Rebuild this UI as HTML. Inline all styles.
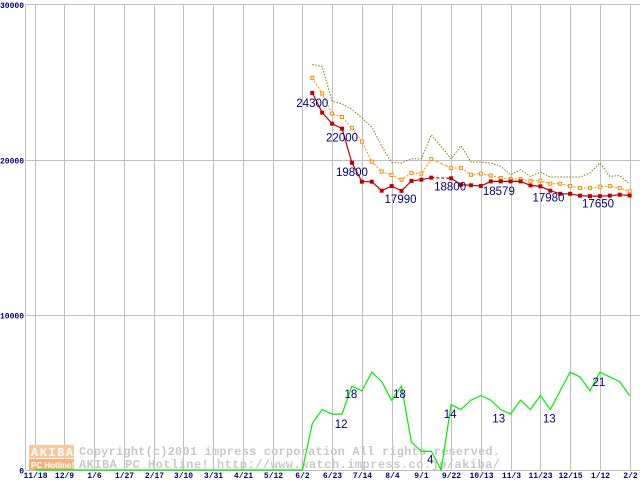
<!DOCTYPE html>
<html><head><meta charset="utf-8"><style>
html,body{margin:0;padding:0;background:#fff;}
svg{display:block;}
</style></head><body>
<svg id="chart" width="640" height="480" viewBox="0 0 640 480" xmlns="http://www.w3.org/2000/svg">
<g id="grid"></g>
<g id="watermark">
  <rect x="29" y="445" width="45" height="13" fill="#f9c79a"/>
  <text x="31" y="456" font-family="Liberation Mono, monospace" font-size="12" font-weight="bold" fill="#fff" letter-spacing="1.5">AKIBA</text>
  <rect x="29" y="459" width="45" height="11" fill="#f7b07a"/>
  <text x="31" y="468" font-family="Liberation Sans, sans-serif" font-size="8" font-weight="bold" fill="#fff">PC Hotline!</text>
  <text x="79" y="455" font-family="Liberation Mono, monospace" font-size="12" font-weight="bold" fill="#c8c8c8" textLength="421">Copyright(c)2001 impress corporation All rights reserved.</text>
  <text x="79" y="468" font-family="Liberation Mono, monospace" font-size="12" font-weight="bold" fill="#c8c8c8" textLength="421">AKIBA PC Hotline!  http://www.watch.impress.co.jp/akiba/</text>
</g>
<g id="series"></g>
<g id="labels"></g>
</svg>
<script>
const xTickLabels = ["11/18","12/9","1/6","1/27","2/17","3/10","3/31","4/21","5/12","6/2","6/23","7/14","8/4","9/1","9/22","10/13","11/3","11/23","12/15","1/12","2/2"];
const yTickValues = [0,10000,20000,30000];
const priceStart = 28;
const minPrice = [24300,23030,22320,22000,19800,18580,18580,18000,18300,17990,18630,18710,18840,null,18800,18390,18350,18300,18600,18600,18600,18600,18340,18280,18000,17800,17800,17680,17650,17650,17680,17740,17690];
const avgPrice = [25270,24260,22970,22750,22050,21160,19870,19230,19010,18710,19140,19100,20040,null,19460,19460,19030,19100,18970,18820,18750,18750,18640,18640,18450,18450,18300,18170,18170,18260,18300,18170,17960];
const maxPrice = [26130,26020,23760,23610,23230,22690,22110,20860,19830,19790,20050,20050,21610,20860,20050,20900,19850,19850,19780,19570,19030,19350,18920,19200,18880,18880,18880,18880,19140,19790,18920,18970,18430];
const shopCount = [0,0,0,0,0,0,0,0,0,0,0,0,0,0,0,0,0,0,0,0,0,0,0,0,0,0,0,0,10,13,12,12,18,17,21,19,15,18,6,4,4,0,14,13,15,16,15,13,12,15,13,16,13,17,21,20,17,21,20,19,16];
const priceLabels = [[0,"24300"],[3,"22000"],[4,"19800"],[9,"17990"],[14,"18800"],[17,"18579"],[22,"17980"],[27,"17650"]];
const countLabels = [[30,"12"],[32,"18"],[37,"18"],[39,"4"],[42,"14"],[47,"13"],[52,"13"],[57,"21"]];

const NS="http://www.w3.org/2000/svg";
const X0=34.6, XW=9.917, Y0=470, YMAX=30000, YTOP=4.5;
function xw(i){return X0+i*XW;}
function yp(v){return Y0-(v/YMAX)*(Y0-YTOP);}
function yc(c){return yp(c*300);}
function mk(tag,attrs,parent){const e=document.createElementNS(NS,tag);for(const k in attrs)e.setAttribute(k,attrs[k]);parent.appendChild(e);return e;}
const grid=document.getElementById('grid'), series=document.getElementById('series'), labels=document.getElementById('labels');

let a=mk('line',{x1:25.5,y1:YTOP,x2:640,y2:YTOP,stroke:'#c0c0c0'},grid);


a=mk('line',{x1:25.5,y1:YTOP,x2:25.5,y2:470,stroke:'#c0c0c0'},grid);


yTickValues.forEach(v=>{
  const y=Math.round(yp(v))+0.5;
  if(v>0&&v<YMAX){const l=mk('line',{x1:25.5,y1:y,x2:640,y2:y,stroke:'#c0c0c0'},grid);
    
    }
  const t=mk('text',{x:24,y:v===YMAX?8:y+3,'text-anchor':'end','font-family':'Liberation Mono, monospace','font-size':'8','font-weight':'bold',fill:'#000080'},grid);
  t.textContent=String(v);
  
  
});
xTickLabels.forEach((s,k)=>{
  const x=Math.round(xw(k*3))+0.5;
  const l=mk('line',{x1:x,y1:YTOP,x2:x,y2:470,stroke:'#c0c0c0'},grid);
  
  
  const t=mk('text',{x:x,y:478,'text-anchor':'middle','font-family':'Liberation Mono, monospace','font-size':'8','font-weight':'bold',fill:'#000080'},grid);
  t.textContent=s;
  
  
});
a=mk('line',{x1:25.5,y1:470.5,x2:640,y2:470.5,stroke:'#c0c0c0'},grid);



let pts=shopCount.map((c,i)=>xw(i).toFixed(1)+','+yc(c).toFixed(1)).join(' ');
let pl=mk('polyline',{points:pts,fill:'none',stroke:'#00ee00','stroke-width':1.2},series);



function priceLine(arr,color,dash,name,width){
  let segs=[],cur=[];
  arr.forEach((v,i)=>{if(v==null){if(cur.length)segs.push(cur);cur=[];}else cur.push([xw(priceStart+i),yp(v)]);});
  if(cur.length)segs.push(cur);
  segs.forEach(s=>{const p=mk('polyline',{points:s.map(q=>q[0].toFixed(1)+','+q[1].toFixed(1)).join(' '),fill:'none',stroke:color,'stroke-width':width},series);
    if(dash)p.setAttribute('stroke-dasharray',dash);
    
    });
  for(let i=0;i<arr.length;i++){if(arr[i]==null&&i>0&&i<arr.length-1&&arr[i-1]!=null&&arr[i+1]!=null){
    const b=mk('line',{x1:xw(priceStart+i-1),y1:yp(arr[i-1]),x2:xw(priceStart+i+1),y2:yp(arr[i+1]),stroke:color,'stroke-dasharray':'3,2','stroke-width':width},series);
    
    }}
}
priceLine(maxPrice,'#808000','1.5,1.5','max-price-line',1);
priceLine(avgPrice,'#ff8c00','2,1.5','avg-price-line',1);
priceLine(minPrice,'#c00000',null,'min-price-line',1.2);
avgPrice.forEach((v,i)=>{if(v==null)return;
  const r=mk('rect',{x:xw(priceStart+i)-1.5,y:yp(v)-1.5,width:3,height:3,fill:'#fff',stroke:'#ff8c00','stroke-width':1},series);
  
  });
minPrice.forEach((v,i)=>{if(v==null)return;
  const r=mk('rect',{x:xw(priceStart+i)-2,y:yp(v)-2,width:4,height:4,fill:'#c00000'},series);
  
  });

const lblOff={0:[0,14],3:[0,13],4:[0,13],9:[-1,12],14:[-1,12],17:[18,9],22:[18,16],27:[18,12]};
priceLabels.forEach(([i,s])=>{
  const o=lblOff[i]||[0,12];
  const t=mk('text',{x:xw(priceStart+i)+o[0],y:yp(minPrice[i])+o[1],'text-anchor':'middle','font-family':'Liberation Sans, sans-serif','font-size':'11.5',fill:'#000080'},labels);
  t.textContent=s;
  
  });
const cntOff={30:[9,14],32:[-1,12],37:[-2,12],39:[9,12],42:[-1,13],47:[-2,13],52:[-1,13],57:[-1,14]};
countLabels.forEach(([i,s])=>{
  const o=cntOff[i]||[0,13];
  const t=mk('text',{x:xw(i)+o[0],y:yc(shopCount[i])+o[1],'text-anchor':'middle','font-family':'Liberation Sans, sans-serif','font-size':'11.5',fill:'#000080'},labels);
  t.textContent=s;
  
  });
</script>
</body></html>
